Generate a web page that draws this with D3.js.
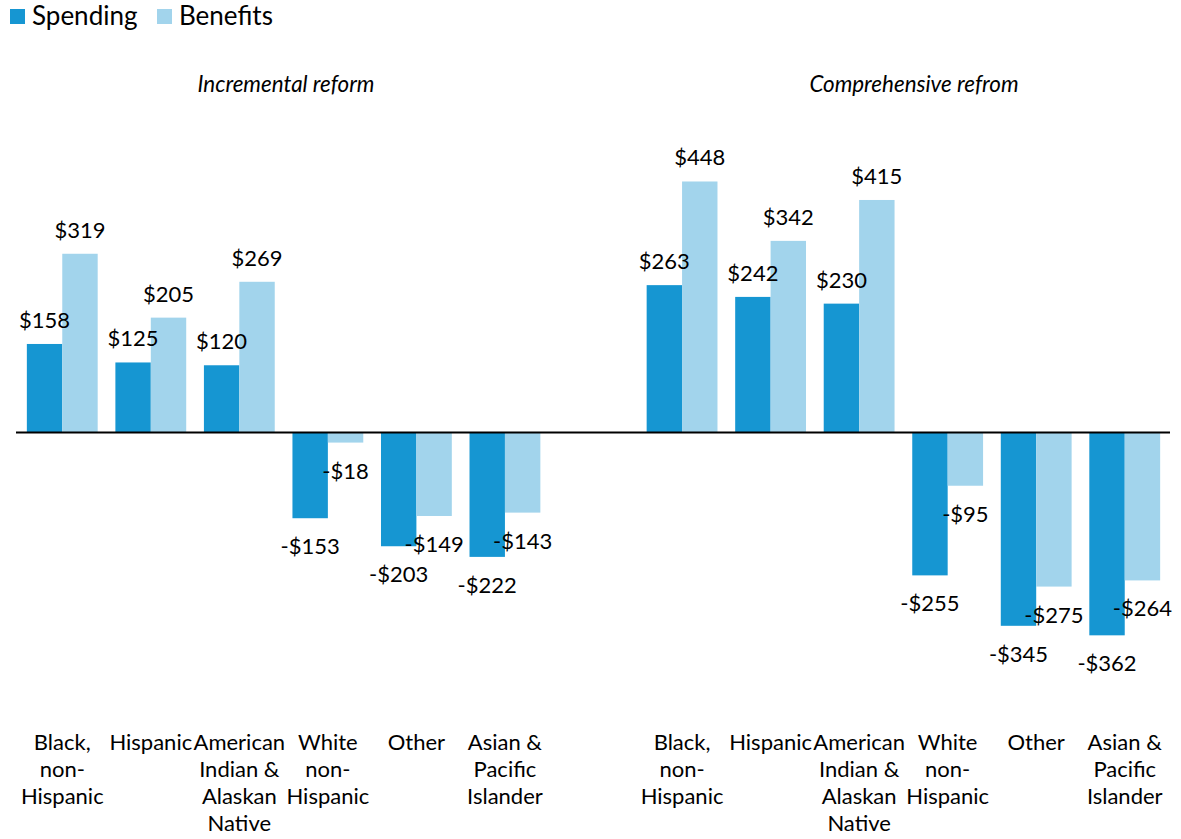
<!DOCTYPE html>
<html>
<head>
<meta charset="utf-8">
<script src="https://cdn.jsdelivr.net/npm/d3@7"></script>
<style>
  html, body { margin: 0; padding: 0; background: #fff; }
  svg { display: block; font-family: Lato, "Noto Sans", sans-serif; }
</style>
</head>
<body>
<svg id="chart" width="1181" height="839"></svg>
<script>
// ---- Data ----
const categories = ["Black, non-Hispanic", "Hispanic", "American Indian & Alaskan Native", "White non-Hispanic", "Other", "Asian & Pacific Islander"];
const categoryLines = [["Black,", "non-", "Hispanic"], ["Hispanic"], ["American", "Indian &", "Alaskan", "Native"], ["White", "non-", "Hispanic"], ["Other"], ["Asian &", "Pacific", "Islander"]];
const seriesNames = ["Spending", "Benefits"];
const panelTitles = ["Incremental reform", "Comprehensive refrom"];
const incrementalSpending = [158, 125, 120, -153, -203, -222];
const incrementalBenefits = [319, 205, 269, -18, -149, -143];
const comprehensiveSpending = [263, 242, 230, -255, -345, -362];
const comprehensiveBenefits = [448, 342, 415, -95, -275, -264];

// ---- Layout ----
const colors = { Spending: "#1696d2", Benefits: "#a2d4ec" };
const svg = d3.select("#chart");

const y = d3.scaleLinear().domain([-400, 500]).range([432.5 + 400 * 0.5603, 432.5 - 500 * 0.5603]);

const panels = [
  { title: panelTitles[0], spending: incrementalSpending, benefits: incrementalBenefits, range: [18, 549.2], titleX: 286 },
  { title: panelTitles[1], spending: comprehensiveSpending, benefits: comprehensiveBenefits, range: [637.8, 1169], titleX: 914 }
];

panels.forEach(p => {
  const x = d3.scaleBand().domain(categories).range(p.range).paddingInner(0.2).paddingOuter(0.1);
  const xs = d3.scaleBand().domain(seriesNames).range([0, x.bandwidth()]);
  const g = svg.append("g");

  g.append("text")
    .attr("x", p.titleX).attr("y", 92)
    .attr("text-anchor", "middle")
    .attr("font-style", "italic")
    .attr("font-size", 22.4)
    .attr("fill", "#000")
    .text(p.title);

  const rows = [];
  categories.forEach((c, i) => {
    rows.push({ cat: c, series: "Spending", value: p.spending[i] });
    rows.push({ cat: c, series: "Benefits", value: p.benefits[i] });
  });

  g.selectAll("rect.bar").data(rows).join("rect")
    .attr("class", "bar")
    .attr("x", d => x(d.cat) + xs(d.series))
    .attr("width", xs.bandwidth())
    .attr("y", d => Math.min(y(d.value), y(0)))
    .attr("height", d => Math.abs(y(d.value) - y(0)))
    .attr("fill", d => colors[d.series]);

  g.selectAll("text.val").data(rows).join("text")
    .attr("class", "val")
    .attr("x", d => x(d.cat) + xs(d.series) + xs.bandwidth() / 2)
    .attr("y", d => d.value >= 0 ? y(d.value) - 16 : y(d.value) + 36)
    .attr("text-anchor", "middle")
    .attr("font-size", 22)
    .attr("fill", "#000")
    .text(d => (d.value < 0 ? "-$" : "$") + Math.abs(d.value));

  categories.forEach((c, i) => {
    const t = g.append("text")
      .attr("x", x(c) + x.bandwidth() / 2)
      .attr("y", 750)
      .attr("text-anchor", "middle")
      .attr("font-size", 22)
      .attr("fill", "#000");
    categoryLines[i].forEach((line, j) => {
      t.append("tspan").attr("x", x(c) + x.bandwidth() / 2).attr("y", 750 + j * 27).text(line);
    });
  });
});

// zero line
svg.append("line")
  .attr("x1", 16).attr("x2", 1170)
  .attr("y1", y(0)).attr("y2", y(0))
  .attr("stroke", "#000").attr("stroke-width", 2);

// legend
const legend = svg.append("g");
const legendTextX = [32, 179];
const legendSqX = [10, 157];
seriesNames.forEach((s, i) => {
  legend.append("rect").attr("x", legendSqX[i]).attr("y", 9).attr("width", 15).attr("height", 15).attr("fill", colors[s]);
  legend.append("text").attr("x", legendTextX[i]).attr("y", 25).attr("font-size", 26).attr("fill", "#000").text(s);
});
</script>
</body>
</html>
